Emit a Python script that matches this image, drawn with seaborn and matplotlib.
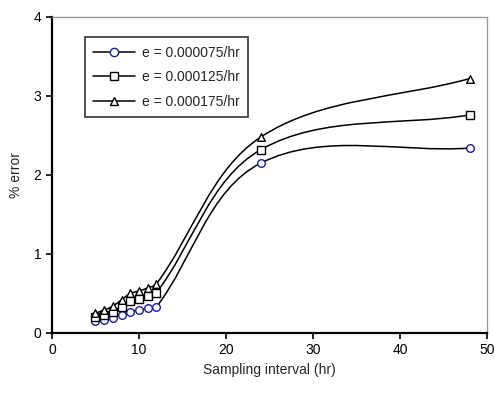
import numpy as np
import seaborn as sns
import matplotlib.pyplot as plt
from matplotlib.path import Path
from matplotlib.patches import PathPatch
from matplotlib.lines import Line2D

# sampling interval (hr)
interval = [5, 6, 7, 8, 9, 10, 11, 12, 24, 48]

# % error for each drift rate
err_075 = [0.15, 0.17, 0.19, 0.23, 0.27, 0.29, 0.31, 0.33, 2.15, 2.34]
err_125 = [0.20, 0.23, 0.27, 0.33, 0.40, 0.43, 0.47, 0.51, 2.32, 2.76]
err_175 = [0.25, 0.29, 0.34, 0.42, 0.50, 0.53, 0.57, 0.62, 2.48, 3.22]

labels = ['e = 0.000075/hr', 'e = 0.000125/hr', 'e = 0.000175/hr']
markers = ['o', 's', '^']
edge_colors = ['#1c1ca8', 'black', 'black']

# rough pixel size of one data unit, so the smoothing behaves like on screen
SX, SY = 8.7, 79.0


def smooth_path(x, y):
    # excel style smoothed line: bezier arms a third of each segment length
    pts = np.column_stack([np.asarray(x) * SX, np.asarray(y) * SY]).astype(float)
    n = len(pts)
    tang = []
    for i in range(n):
        d = pts[min(i + 1, n - 1)] - pts[max(i - 1, 0)]
        tang.append(d / np.linalg.norm(d))
    verts = [pts[0]]
    codes = [Path.MOVETO]
    for i in range(n - 1):
        seg = np.linalg.norm(pts[i + 1] - pts[i])
        c1 = pts[i] + tang[i] * seg / 3
        c2 = pts[i + 1] - tang[i + 1] * seg / 3
        verts += [c1, c2, pts[i + 1]]
        codes += [Path.CURVE4] * 3
    verts = np.array(verts) / [SX, SY]
    return Path(verts, codes)


sns.set_style('white')
plt.rcParams['font.family'] = ['Liberation Sans', 'DejaVu Sans']

fig = plt.figure(figsize=(4.95, 3.94), dpi=100)
ax = fig.add_axes([0.105, 0.155, 0.879, 0.802])

handles = []
for vals, lab, m, ec in zip([err_075, err_125, err_175], labels, markers, edge_colors):
    ax.add_patch(PathPatch(smooth_path(interval, vals), facecolor='none',
                           edgecolor='black', lw=1.1, zorder=2))
    sns.scatterplot(x=interval, y=vals, marker=m, s=30, color='white',
                    edgecolor=ec, linewidth=1.0, zorder=3, ax=ax, legend=False)
    handles.append(Line2D([], [], color='black', lw=1.1, marker=m, markersize=6,
                          markerfacecolor='white', markeredgecolor=ec,
                          markeredgewidth=1.0, label=lab))

ax.set_xlim(0, 50)
ax.set_ylim(0, 4)
ax.set_xticks([0, 10, 20, 30, 40, 50])
ax.set_yticks([0, 1, 2, 3, 4])
ax.set_xlabel('Sampling interval (hr)', fontsize=10)
ax.set_ylabel('% error', fontsize=10, labelpad=8)
ax.tick_params(direction='out', length=4, width=1.2, labelsize=10,
               bottom=True, left=True, colors='black')

for side in ['left', 'bottom']:
    ax.spines[side].set_color('black')
    ax.spines[side].set_linewidth(1.6)
for side in ['top', 'right']:
    ax.spines[side].set_color('#999999')
    ax.spines[side].set_linewidth(1.0)

leg = ax.legend(handles=handles, loc='upper left', bbox_to_anchor=(0.075, 0.935),
                fontsize=10, frameon=True, fancybox=False, handlelength=3.0,
                borderpad=0.6, labelspacing=0.75, handletextpad=0.5,
                borderaxespad=0)
leg.get_frame().set_edgecolor('black')
leg.get_frame().set_linewidth(1.2)

fig.savefig('out.png', dpi=100)
